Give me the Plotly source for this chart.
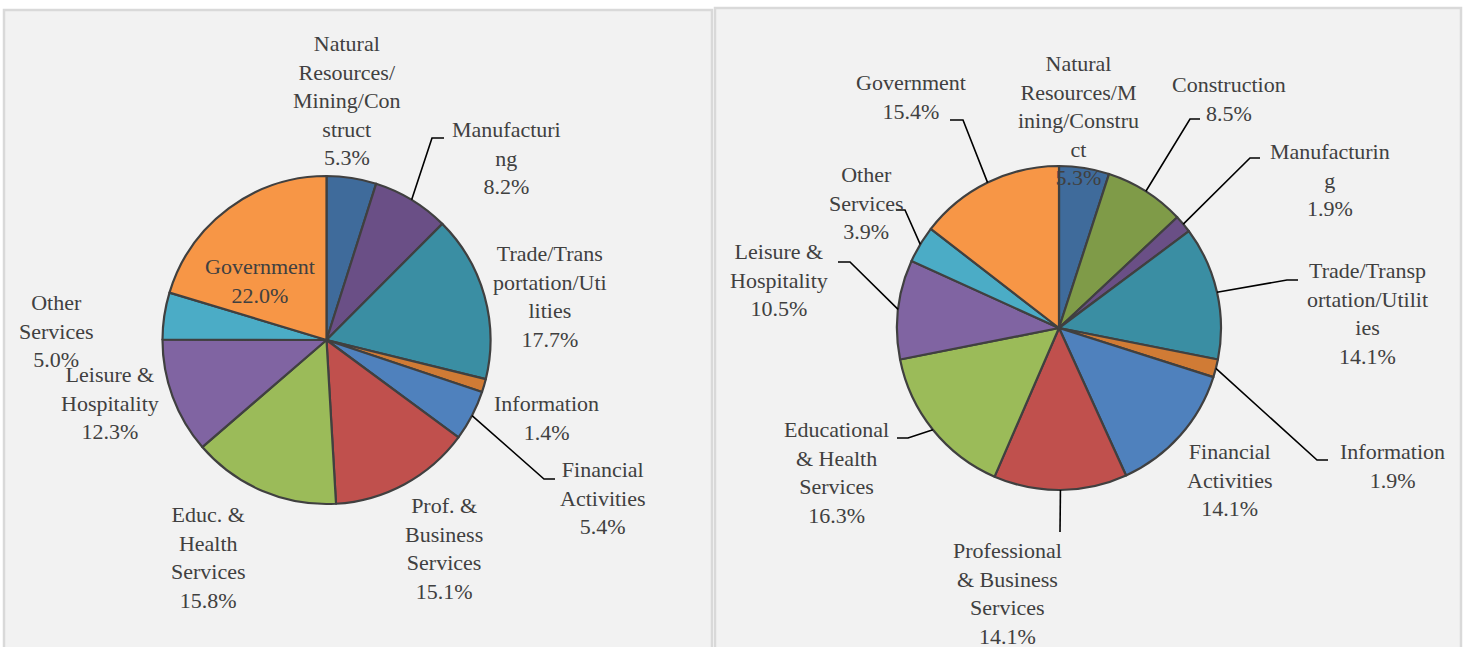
import math
import plotly.graph_objects as go

W, H = 1465, 647

# ---------------- data ----------------
left_categories = ["Natural Resources/Mining/Construct", "Manufacturing", "Trade/Transportation/Utilities",
                   "Information", "Financial Activities", "Prof. & Business Services",
                   "Educ. & Health Services", "Leisure & Hospitality", "Other Services", "Government"]
left_labels = ["Natural<br>Resources/<br>Mining/Con<br>struct", "Manufacturi<br>ng",
               "Trade/Trans<br>portation/Uti<br>lities", "Information", "Financial<br>Activities",
               "Prof. &<br>Business<br>Services", "Educ. &<br>Health<br>Services",
               "Leisure &<br>Hospitality", "Other<br>Services", "Government"]
left_values = [5.3, 8.2, 17.7, 1.4, 5.4, 15.1, 15.8, 12.3, 5.0, 22.0]

right_categories = ["Natural Resources/Mining/Construct", "Construction", "Manufacturing",
                    "Trade/Transportation/Utilities", "Information", "Financial Activities",
                    "Professional & Business Services", "Educational & Health Services",
                    "Leisure & Hospitality", "Other Services", "Government"]
right_labels = ["Natural<br>Resources/M<br>ining/Constru<br>ct", "Construction", "Manufacturin<br>g",
                "Trade/Transp<br>ortation/Utilit<br>ies", "Information", "Financial<br>Activities",
                "Professional<br>& Business<br>Services", "Educational<br>& Health<br>Services",
                "Leisure &<br>Hospitality", "Other<br>Services", "Government"]
right_values = [5.3, 8.5, 1.9, 14.1, 1.9, 14.1, 14.1, 16.3, 10.5, 3.9, 15.4]

left_colors = ["#3f6b9b", "#6a4f86", "#3a8ea3", "#d07b35", "#4f81bd", "#c0504d",
               "#9bbb59", "#8064a2", "#4bacc6", "#f79646"]
right_colors = ["#3f6b9b", "#7f9b48", "#6a4f86", "#3a8ea3", "#d07b35", "#4f81bd",
                "#c0504d", "#9bbb59", "#8064a2", "#4bacc6", "#f79646"]

# ---------------- layout constants (pixels) ----------------
L_CX, L_CY, L_R = 326.5, 340, 164
R_CX, R_CY, R_R = 1059, 328, 162

# label centre positions and optional leader elbows [(elbow), (end)]
left_label_pos = [(347, 100, None), (506, 158, [(432, 138), (444, 138)]), (550, 297, None),
                  (546, 418, None), (603, 498, [(544, 479), (555, 479)]), (444, 548, None),
                  (208, 557, None), (110, 403, None), (57, 331, None), (260, 281, None)]
right_label_pos = [(1078, 120, None), (1229, 99, [(1190, 119), (1200, 119)]),
                   (1330, 180, [(1250, 158), (1260, 158)]),
                   (1367, 314, [(1287, 280), (1298, 280)]),
                   (1392, 466, [(1317, 460), (1328, 460)]), (1230, 480, None),
                   (1007, 593, [(1060, 532), (1060, 532)]),
                   (836, 472, [(908, 438), (897, 438)]),
                   (779, 280, [(850, 262), (838, 262)]),
                   (866, 203, [(905, 210), (896, 210)]),
                   (911, 97, [(963, 120), (950, 120)])]

FONT = "Liberation Serif"
TXT = "#404040"


def px(x):
    return x / W


def py(y):
    return 1 - y / H


def domain(cx, cy, r):
    return dict(x=[px(cx - r), px(cx + r)], y=[py(cy + r), py(cy - r)])


fig = go.Figure()
fig.add_trace(go.Pie(labels=left_categories, values=left_values, sort=False, direction="clockwise",
                     rotation=0, textinfo="none", hoverinfo="label+value", showlegend=False,
                     marker=dict(colors=left_colors, line=dict(color="#404040", width=2.2)),
                     domain=domain(L_CX, L_CY, L_R)))
fig.add_trace(go.Pie(labels=right_categories, values=right_values, sort=False, direction="clockwise",
                     rotation=0, textinfo="none", hoverinfo="label+value", showlegend=False,
                     marker=dict(colors=right_colors, line=dict(color="#404040", width=2.2)),
                     domain=domain(R_CX, R_CY, R_R)))

shapes = [
    dict(type="rect", xref="paper", yref="paper", x0=px(4), x1=px(712), y0=py(660), y1=py(10),
         fillcolor="#f2f2f2", line=dict(color="#d9d9d9", width=2.5), layer="below"),
    dict(type="rect", xref="paper", yref="paper", x0=px(715), x1=px(1461), y0=py(660), y1=py(8),
         fillcolor="#f2f2f2", line=dict(color="#d9d9d9", width=2.5), layer="below"),
]
annotations = []


def add_labels(labels, values, positions, cx, cy, r):
    total = sum(values)
    cum = 0
    for lab, val, (lx, ly, leader) in zip(labels, values, positions):
        mid = (cum + val / 2) / total * 2 * math.pi
        cum += val
        annotations.append(dict(x=px(lx), y=py(ly), xref="paper", yref="paper",
                                text=f"{lab}<br>{val:.1f}%", showarrow=False,
                                xanchor="center", yanchor="middle", align="center",
                                font=dict(family=FONT, size=22, color=TXT)))
        if leader:
            ex, ey = cx + r * math.sin(mid), cy - r * math.cos(mid)
            (bx, by), (tx, ty) = leader
            path = f"M {px(ex)} {py(ey)} L {px(bx)} {py(by)} L {px(tx)} {py(ty)}"
            shapes.append(dict(type="path", xref="paper", yref="paper", path=path,
                               line=dict(color="#000000", width=1.6)))


add_labels(left_labels, left_values, left_label_pos, L_CX, L_CY, L_R)
add_labels(right_labels, right_values, right_label_pos, R_CX, R_CY, R_R)

fig.update_layout(width=W, height=H, margin=dict(l=0, r=0, t=0, b=0),
                  paper_bgcolor="white", plot_bgcolor="white",
                  font=dict(family=FONT, color=TXT),
                  shapes=shapes, annotations=annotations)
fig.write_html("out.html", config={"displayModeBar": False},
               post_script="document.body.style.margin='0';document.body.style.overflow='hidden';")
